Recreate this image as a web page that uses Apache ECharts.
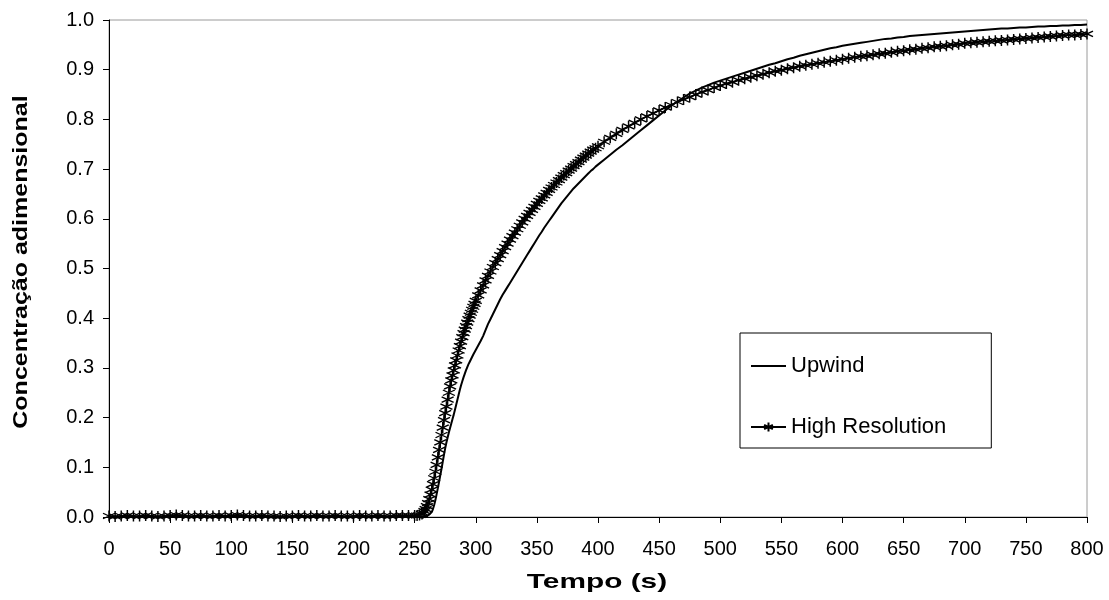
<!DOCTYPE html>
<html>
<head>
<meta charset="utf-8">
<script src="https://cdn.jsdelivr.net/npm/echarts@6/dist/echarts.min.js"></script>
<style>
  html, body { margin: 0; padding: 0; background: #fff; }
  #chart { width: 1109px; height: 600px; }
</style>
</head>
<body>
<div id="chart"></div>
<script>
// tempo (s)
var tempo = [
  0, 5, 10, 15, 20, 25, 30, 35, 40, 45, 50, 55, 60, 65, 70, 75, 80, 85, 90, 95,
  100, 105, 110, 115, 120, 125, 130, 135, 140, 145, 150, 155, 160, 165, 170, 175, 180, 185, 190, 195,
  200, 205, 210, 215, 220, 225, 230, 235, 240, 245, 250,
  252, 254,
  256, 257, 258, 259, 260, 261, 262, 263, 264, 265, 266, 267, 268, 269, 270, 271, 272, 273, 274, 275,
  276, 277, 278, 279, 280, 281, 282, 283, 284, 285, 286, 287, 288, 289, 290, 291, 292, 293, 294, 295,
  296, 297, 298, 299, 300,
  302, 304, 306, 308, 310, 312, 314, 316, 318, 320, 322, 324, 326, 328, 330, 332, 334, 336, 338, 340,
  342, 344, 346, 348, 350, 352, 354, 356, 358, 360, 362, 364, 366, 368, 370, 372, 374, 376, 378, 380,
  382, 384, 386, 388, 390, 392, 394, 396, 398, 400,
  405, 410, 415, 420, 425, 430, 435, 440, 445, 450, 455, 460, 465, 470, 475, 480, 485, 490, 495, 500,
  505, 510, 515, 520, 525, 530, 535, 540, 545, 550, 555, 560, 565, 570, 575, 580, 585, 590, 595, 600,
  605, 610, 615, 620, 625, 630, 635, 640, 645, 650, 655, 660, 665, 670, 675, 680, 685, 690, 695, 700,
  705, 710, 715, 720, 725, 730, 735, 740, 745, 750, 755, 760, 765, 770, 775, 780, 785, 790, 795, 800
];

var upwind = [
  0, 0, 0, 0, 0, 0, 0, 0, 0, 0, 0, 0, 0, 0, 0, 0, 0, 0, 0, 0,
  0, 0, 0, 0, 0, 0, 0, 0, 0, 0, 0, 0, 0, 0, 0, 0, 0, 0, 0, 0,
  0, 0, 0, 0, 0, 0, 0, 0, 0, 0, 0,
  0, 0,
  0, 0, 0, 0.001, 0.002, 0.003, 0.005, 0.007, 0.01, 0.016, 0.024, 0.034, 0.046, 0.058, 0.071, 0.084, 0.097, 0.111, 0.125, 0.138,
  0.15, 0.16, 0.17, 0.179, 0.188, 0.197, 0.206, 0.216, 0.226, 0.236, 0.246, 0.256, 0.265, 0.273, 0.281, 0.288, 0.295, 0.301, 0.307, 0.312,
  0.317, 0.322, 0.327, 0.331, 0.336,
  0.345, 0.354, 0.364, 0.376, 0.388, 0.398, 0.408, 0.418, 0.428, 0.438, 0.447, 0.455, 0.463, 0.471, 0.479, 0.487, 0.495, 0.503, 0.511, 0.519,
  0.527, 0.535, 0.543, 0.551, 0.559, 0.567, 0.574, 0.582, 0.589, 0.596, 0.603, 0.61, 0.617, 0.624, 0.631, 0.637, 0.643, 0.649, 0.655, 0.661,
  0.666, 0.671, 0.676, 0.681, 0.686, 0.691, 0.696, 0.7, 0.705, 0.709,
  0.719, 0.729, 0.739, 0.748, 0.758, 0.768, 0.778, 0.788, 0.798, 0.808, 0.818, 0.828, 0.836, 0.844, 0.852, 0.858, 0.864, 0.869, 0.874, 0.878,
  0.882, 0.886, 0.89, 0.894, 0.898, 0.902, 0.906, 0.91, 0.913, 0.917, 0.921, 0.924, 0.928, 0.931, 0.934, 0.937, 0.94, 0.943, 0.945, 0.948,
  0.95, 0.952, 0.954, 0.956, 0.958, 0.96, 0.962, 0.963, 0.965, 0.966, 0.968, 0.969, 0.97, 0.971, 0.972, 0.973, 0.974, 0.975, 0.976, 0.977,
  0.978, 0.979, 0.98, 0.981, 0.982, 0.983, 0.983, 0.984, 0.985, 0.985, 0.986, 0.987, 0.987, 0.988, 0.988, 0.989, 0.989, 0.99, 0.99, 0.991
];

var highRes = [
  0.002, 0.001, 0.002, 0.003, 0.002, 0.002, 0.003, 0.002, 0.001, 0.002, 0.003, 0.004, 0.003, 0.002, 0.002, 0.003, 0.002, 0.002, 0.003, 0.002,
  0.003, 0.004, 0.003, 0.002, 0.002, 0.003, 0.002, 0.002, 0.001, 0.002, 0.002, 0.003, 0.002, 0.002, 0.003, 0.002, 0.002, 0.003, 0.002, 0.002,
  0.002, 0.003, 0.002, 0.002, 0.003, 0.002, 0.002, 0.003, 0.003, 0.003, 0.003,
  0.003, 0.004,
  0.006, 0.008, 0.012, 0.016, 0.022, 0.028, 0.036, 0.045, 0.055, 0.066, 0.078, 0.091, 0.105, 0.12, 0.135, 0.15, 0.165, 0.18, 0.195, 0.209,
  0.222, 0.236, 0.25, 0.263, 0.275, 0.285, 0.295, 0.305, 0.315, 0.325, 0.335, 0.344, 0.353, 0.362, 0.37, 0.377, 0.384, 0.391, 0.398, 0.405,
  0.411, 0.417, 0.423, 0.429, 0.435,
  0.446, 0.456, 0.466, 0.476, 0.485, 0.494, 0.503, 0.511, 0.519, 0.527, 0.535, 0.543, 0.55, 0.558, 0.565, 0.572, 0.579, 0.586, 0.593, 0.6,
  0.606, 0.612, 0.618, 0.624, 0.63, 0.636, 0.641, 0.647, 0.652, 0.658, 0.663, 0.668, 0.673, 0.678, 0.683, 0.688, 0.692, 0.697, 0.701, 0.706,
  0.71, 0.714, 0.719, 0.723, 0.727, 0.731, 0.735, 0.739, 0.742, 0.746,
  0.755, 0.763, 0.771, 0.779, 0.786, 0.793, 0.8, 0.806, 0.812, 0.818, 0.824, 0.829, 0.835, 0.84, 0.845, 0.85, 0.855, 0.859, 0.864, 0.868,
  0.872, 0.875, 0.879, 0.882, 0.885, 0.888, 0.891, 0.894, 0.897, 0.899, 0.902, 0.904, 0.907, 0.909, 0.911, 0.913, 0.915, 0.917, 0.919, 0.921,
  0.923, 0.925, 0.927, 0.928, 0.93, 0.932, 0.933, 0.935, 0.937, 0.938, 0.94, 0.941, 0.943, 0.944, 0.946, 0.947, 0.948, 0.95, 0.951, 0.953,
  0.954, 0.955, 0.956, 0.957, 0.958, 0.959, 0.96, 0.961, 0.962, 0.963, 0.964, 0.965, 0.966, 0.967, 0.968, 0.969, 0.97, 0.97, 0.971, 0.972
];

var fonte = '"Liberation Sans", Arial, sans-serif';
// asterisco do Excel
var estrela = 'path://M5,0 L5,10 M0.7,2.5 L9.3,7.5 M0.7,7.5 L9.3,2.5';

function pares(vals) {
  return tempo.map(function (t, i) { return [t, vals[i]]; });
}

var myChart = echarts.init(document.getElementById('chart'));
var option = {
  animation: false,
  backgroundColor: '#fff',
  grid: {
    left: 109,
    right: 22,
    top: 20,
    bottom: 83,
    show: true,
    borderColor: '#9a9a9a',
    borderWidth: 1
  },
  legend: {
    orient: 'vertical',
    left: 740,
    top: 333,
    data: [
      { name: 'Upwind', icon: 'path://M0,0 L35,0 L35,2 L0,2 Z' },
      { name: 'High Resolution' }
    ],
    itemWidth: 35,
    itemHeight: 11,
    itemGap: 39,
    padding: [22, 45, 10, 10],
    borderColor: '#000',
    borderWidth: 1,
    textStyle: { color: '#000', fontSize: 22, fontFamily: fonte }
  },
  // titulos dos eixos (texto um pouco esticado como no Excel)
  graphic: [
    {
      type: 'text',
      x: 21,
      y: 262,
      rotation: Math.PI / 2,
      scaleX: 1.25,
      style: {
        text: 'Concentração adimensional',
        font: 'bold 20px "Liberation Sans", Arial, sans-serif',
        fill: '#000',
        align: 'center',
        verticalAlign: 'middle'
      }
    },
    {
      type: 'text',
      x: 597,
      y: 582,
      scaleX: 1.42,
      style: {
        text: 'Tempo (s)',
        font: 'bold 21px "Liberation Sans", Arial, sans-serif',
        fill: '#000',
        align: 'center',
        verticalAlign: 'middle'
      }
    }
  ],
  xAxis: {
    type: 'value',
    min: 0,
    max: 800,
    interval: 50,
    axisLine: { lineStyle: { color: '#000', width: 1 } },
    axisTick: { show: true, length: 6, lineStyle: { color: '#000' } },
    axisLabel: { color: '#000', fontSize: 20, fontFamily: fonte, margin: 22 },
    splitLine: { show: false }
  },
  yAxis: {
    type: 'value',
    min: 0,
    max: 1,
    interval: 0.1,
    axisLine: { show: true, lineStyle: { color: '#000', width: 1 } },
    axisTick: { show: true, length: 6, lineStyle: { color: '#000' } },
    axisLabel: {
      color: '#000', fontSize: 20, fontFamily: fonte, margin: 15,
      formatter: function (v) { return v.toFixed(1); }
    },
    splitLine: { show: false }
  },
  series: [
    {
      name: 'High Resolution',
      type: 'line',
      data: pares(highRes),
      symbol: estrela,
      symbolSize: [12, 11],
      showAllSymbol: true,
      itemStyle: { color: 'rgba(0,0,0,0)', borderColor: '#000', borderWidth: 1.4 },
      lineStyle: { color: '#000', width: 1.5 },
      z: 2
    },
    {
      name: 'Upwind',
      type: 'line',
      data: pares(upwind),
      showSymbol: false,
      symbol: 'none',
      itemStyle: { color: '#000' },
      lineStyle: { color: '#000', width: 2 },
      z: 3
    }
  ]
};

myChart.setOption(option);
window.addEventListener('resize', function () {
  myChart.resize();
});
</script>
</body>
</html>
